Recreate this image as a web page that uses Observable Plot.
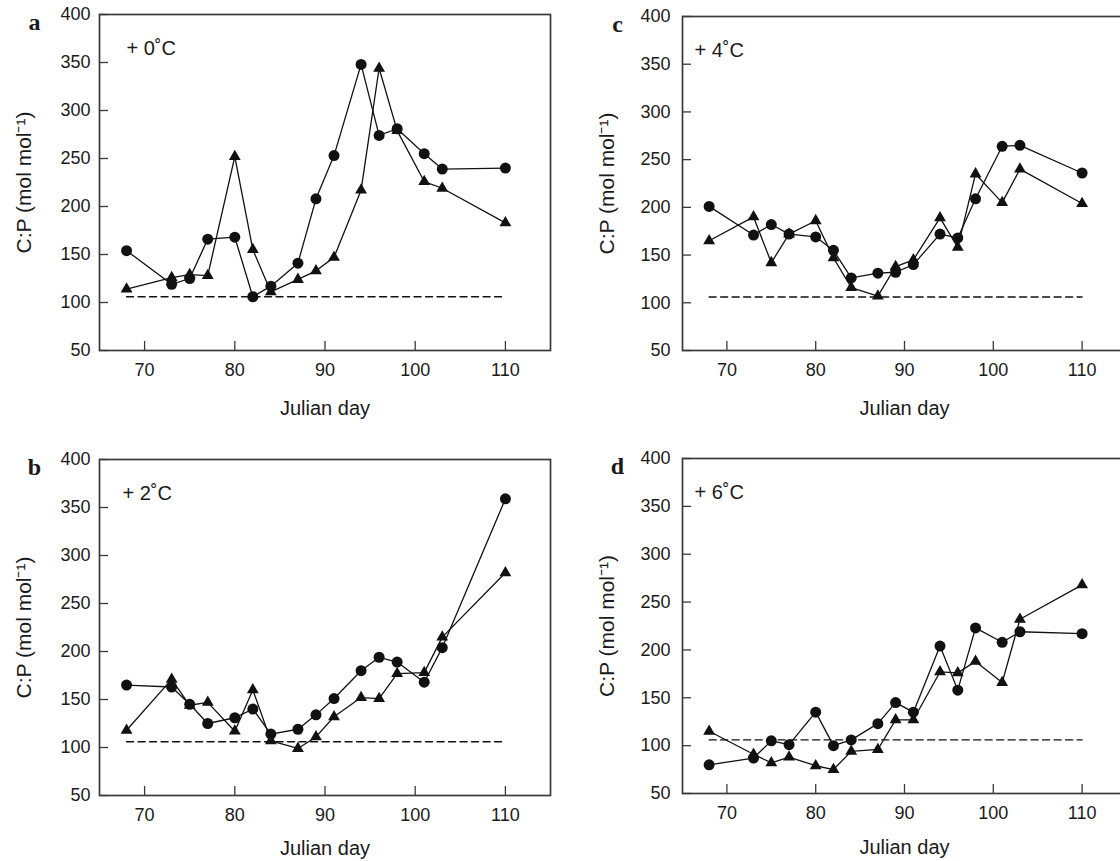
<!DOCTYPE html>
<html><head><meta charset="utf-8">
<script src="https://cdn.jsdelivr.net/npm/d3@7"></script>
<script src="https://cdn.jsdelivr.net/npm/@observablehq/plot@0.6"></script>
<style>
html,body{margin:0;padding:0;background:#fff;}
#fig{position:relative;width:1120px;height:861px;overflow:hidden;background:#fff;}
#fig svg{position:absolute;max-width:none;}
</style></head><body><div id="fig"></div>
<script>
// Julian days of sampling
const days = [68, 73, 75, 77, 80, 82, 84, 87, 89, 91, 94, 96, 98, 101, 103, 110];

// Panel a (+0 °C)
const aCircles   = [154, 119, 125, 166, 168, 106, 117, 141, 208, 253, 348, 274, 281, 255, 239, 240];
const aTriangles = [114, 126, 129, 128, 252, 155, 111, 124, 133, 147, 217, 344, 279, 226, 219, 183];
// Panel b (+2 °C)
const bCircles   = [165, 163, 145, 125, 131, 140, 114, 119, 134, 151, 180, 194, 189, 168, 204, 359];
const bTriangles = [118, 171, 144, 147, 117, 160, 107, 99, 111, 132, 152, 151, 177, 178, 215, 282];
// Panel c (+4 °C)
const cCircles   = [201, 171, 182, 172, 169, 155, 126, 131, 132, 140, 172, 168, 209, 264, 265, 236];
const cTriangles = [165, 190, 142, 172, 186, 147, 116, 107, 138, 145, 189, 158, 235, 205, 240, 204];
// Panel d (+6 °C)
const dCircles   = [80, 87, 105, 101, 135, 100, 106, 123, 145, 135, 204, 158, 223, 208, 219, 217];
const dTriangles = [115, 91, 82, 88, 79, 75, 94, 96, 127, 127, 177, 176, 188, 166, 232, 268];

// Reference line
const refValue = 106;
const refDays = [68, 110];

const xTicks = [70, 80, 90, 100, 110];
const yTicks = [50, 100, 150, 200, 250, 300, 350, 400];
const xDomain = [65, 115];
const yDomain = [50, 400];

const letters = ["a", "b", "c", "d"];
const temps = ["+ 0˚C", "+ 2˚C", "+ 4˚C", "+ 6˚C"];
const yLabel = "C:P (mol mol⁻¹)";
const xLabel = "Julian day";

const panels = [
  {letter: letters[0], temp: temps[0], circles: aCircles, triangles: aTriangles,
   left: 0, top: 0, width: 560, height: 430, mL: 99, mR: 10, mT: 14, mB: 80, tempDx: 27, tickPad: 9, xLabDy: 58},
  {letter: letters[1], temp: temps[1], circles: bCircles, triangles: bTriangles,
   left: 0, top: 430, width: 560, height: 431, mL: 99, mR: 10, mT: 29, mB: 66, tempDx: 23, tickPad: 9, xLabDy: 53},
  {letter: letters[2], temp: temps[2], circles: cCircles, triangles: cTriangles,
   left: 560, top: 0, width: 580, height: 430, mL: 122, mR: 14, mT: 16, mB: 80, tempDx: 12, tickPad: 12, xLabDy: 58},
  {letter: letters[3], temp: temps[3], circles: dCircles, triangles: dTriangles,
   left: 560, top: 430, width: 580, height: 431, mL: 122, mR: 14, mT: 28, mB: 68, tempDx: 12, tickPad: 12, xLabDy: 54}
];

const axisColor = "#3a3a3a";
const ink = "#111";
const fig = document.getElementById("fig");

for (const p of panels) {
  const plotW = p.width - p.mL - p.mR;
  const plotH = p.height - p.mT - p.mB;
  const xi = (d, i) => days[i];
  const svg = Plot.plot({
    width: p.width,
    height: p.height,
    marginLeft: p.mL, marginRight: p.mR, marginTop: p.mT, marginBottom: p.mB,
    style: {fontFamily: "'Liberation Sans', Arial, sans-serif", fontSize: "18px", color: "#1a1a1a", background: "transparent", overflow: "visible"},
    x: {domain: xDomain, ticks: xTicks, label: null},
    y: {domain: yDomain, ticks: yTicks, label: null},
    marks: [
      Plot.frame({stroke: axisColor, strokeWidth: 1.7}),
      Plot.axisX({ticks: xTicks, tickSize: 0, tickPadding: 13, label: null, fontSize: 18}),
      Plot.axisY({ticks: yTicks, tickSize: 0, tickPadding: p.tickPad, label: null, fontSize: 18}),
      Plot.tickY(yTicks, {y: d => d, insetRight: plotW - 9, stroke: axisColor, strokeWidth: 1.3}),
      Plot.tickX(xTicks, {x: d => d, insetTop: plotH - 9, stroke: axisColor, strokeWidth: 1.3}),
      Plot.line(refDays, {x: d => d, y: () => refValue, stroke: ink, strokeWidth: 1.4, strokeDasharray: "7,4.5"}),
      Plot.line(p.circles, {x: xi, y: d => d, stroke: ink, strokeWidth: 1.3}),
      Plot.line(p.triangles, {x: xi, y: d => d, stroke: ink, strokeWidth: 1.3}),
      Plot.dot(p.circles, {x: xi, y: d => d, r: 5.5, fill: ink, symbol: "circle"}),
      Plot.dot(p.triangles, {x: xi, y: d => d, r: 4.4, fill: ink, symbol: "triangle"}),
      Plot.text([p.temp], {text: d => d, frameAnchor: "top-left", dx: p.tempDx, dy: 34, textAnchor: "start", lineAnchor: "middle", fontSize: 20}),
      Plot.text([p.letter], {text: d => d, frameAnchor: "top-left", dx: 34 - 99, dy: 8, textAnchor: "middle", lineAnchor: "middle", fontSize: 24, fontWeight: "bold", fontFamily: "'Liberation Serif', 'Times New Roman', serif"}),
      Plot.text([yLabel], {text: d => d, frameAnchor: "left", dx: -75, rotate: -90, textAnchor: "middle", lineAnchor: "middle", fontSize: 21}),
      Plot.text([xLabel], {text: d => d, frameAnchor: "bottom", dy: p.xLabDy, textAnchor: "middle", lineAnchor: "middle", fontSize: 20})
    ]
  });
  svg.style.left = p.left + "px";
  svg.style.top = p.top + "px";
  fig.appendChild(svg);
}
</script>
</body></html>
